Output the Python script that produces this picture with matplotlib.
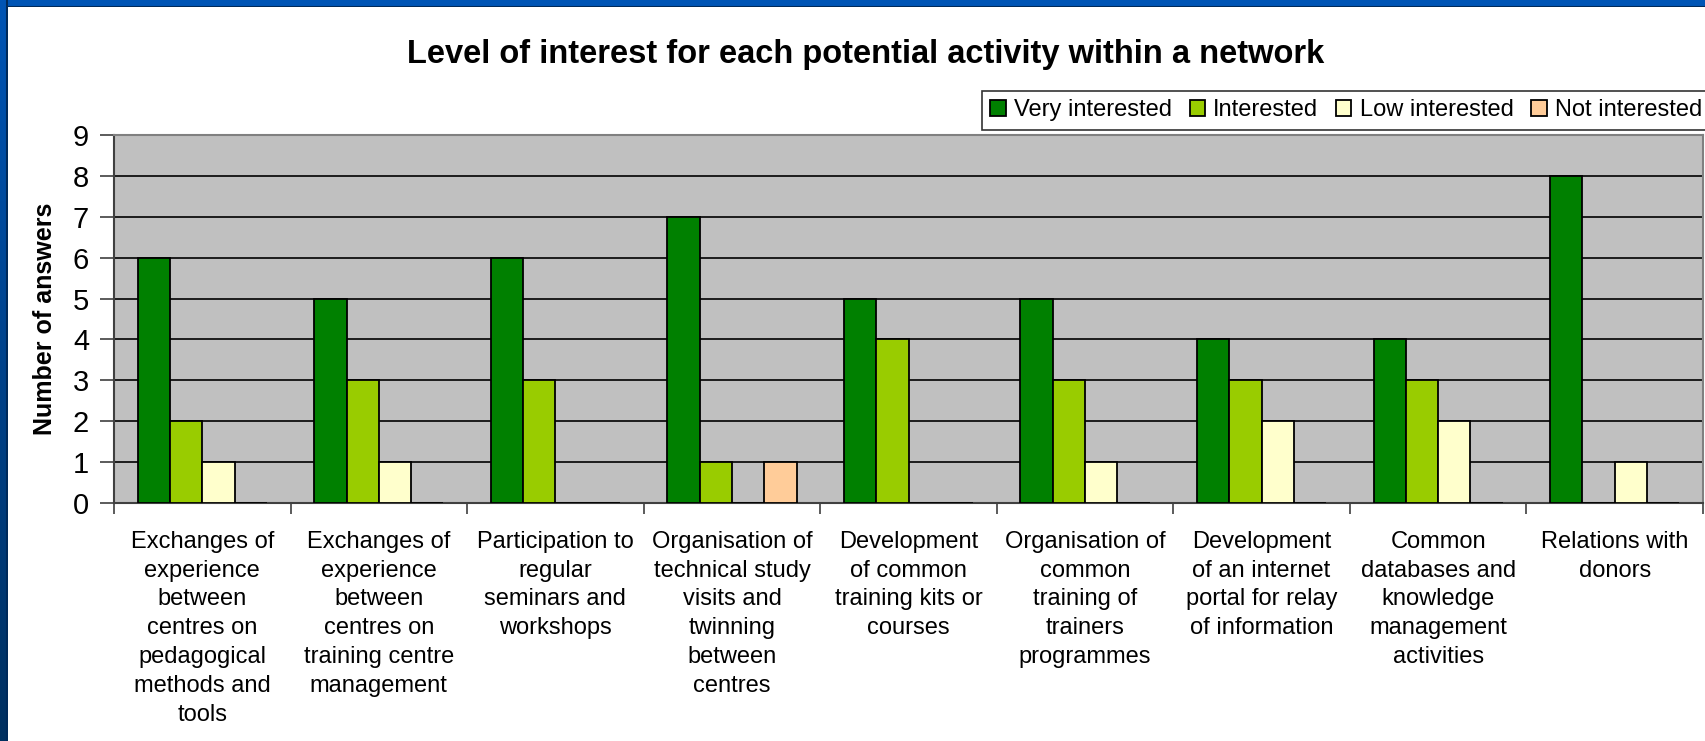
import numpy as np
import matplotlib
matplotlib.use("Agg")
import matplotlib.pyplot as plt
from matplotlib.patches import Rectangle

plt.rcParams['font.family'] = ['Liberation Sans', 'DejaVu Sans']

categories = [
    "Exchanges of\nexperience\nbetween\ncentres on\npedagogical\nmethods and\ntools",
    "Exchanges of\nexperience\nbetween\ncentres on\ntraining centre\nmanagement",
    "Participation to\nregular\nseminars and\nworkshops",
    "Organisation of\ntechnical study\nvisits and\ntwinning\nbetween\ncentres",
    "Development\nof common\ntraining kits or\ncourses",
    "Organisation of\ncommon\ntraining of\ntrainers\nprogrammes",
    "Development\nof an internet\nportal for relay\nof information",
    "Common\ndatabases and\nknowledge\nmanagement\nactivities",
    "Relations with\ndonors",
]
series_names = ["Very interested", "Interested", "Low interested", "Not interested"]
very_interested = [6, 5, 6, 7, 5, 5, 4, 4, 8]
interested = [2, 3, 3, 1, 4, 3, 3, 3, 0]
low_interested = [1, 1, 0, 0, 0, 1, 2, 2, 1]
not_interested = [0, 0, 0, 1, 0, 0, 0, 0, 0]
yticks = [0, 1, 2, 3, 4, 5, 6, 7, 8, 9]

colors = ["#008000", "#99CC00", "#FFFFCC", "#FFCC99"]

W, H = 1705, 741
fig = plt.figure(figsize=(W / 100, H / 100), dpi=100)
fig.patch.set_facecolor("white")

# slide background border (blue)
top = fig.add_axes([0, 1 - 7 / H, 1, 7 / H])
top.add_patch(Rectangle((0, 0), 1, 1, color="#0055B5", transform=top.transAxes))
top.axhline(0.05, color="#002a5a", lw=1.5)
top.set_axis_off()
left = fig.add_axes([0, 0, 8 / W, 1])
grad = np.linspace(0, 1, 256).reshape(-1, 1)
c0 = np.array([0x00, 0x55, 0xB5]) / 255
c1 = np.array([0x00, 0x30, 0x60]) / 255
img = c0[None, None, :] * (1 - grad[:, :, None]) + c1[None, None, :] * grad[:, :, None]
left.imshow(img, aspect="auto", extent=[0, 1, 0, 1], origin="upper")
left.axvline(0.93, color="#002a5a", lw=1.5)
left.set_xlim(0, 1)
left.set_ylim(0, 1)
left.set_axis_off()

ax = fig.add_axes([114 / W, 1 - 503 / H, (1703 - 114) / W, (503 - 135) / H])
ax.set_facecolor("#C0C0C0")

series = [very_interested, interested, low_interested, not_interested]
n = len(categories)
x = np.arange(n)
bw = 0.183
for i, (vals, name, col) in enumerate(zip(series, series_names, colors)):
    offs = (i - 1.5) * bw
    ax.bar(x + offs, vals, width=bw, color=col, edgecolor="black", linewidth=1.3,
           label=name, zorder=3)

ax.set_xlim(-0.5, n - 0.5)
ax.set_ylim(0, 9)
ax.set_yticks(yticks)
ax.yaxis.grid(True, color="black", linewidth=1.2, zorder=1)
ax.set_axisbelow(True)
ax.tick_params(axis="y", labelsize=21, length=10, width=1.2, color="#404040", pad=8)

ax.set_xticks(np.arange(-0.5, n, 1))
ax.set_xticklabels([])
ax.tick_params(axis="x", length=8, width=1.2, color="#404040")
ax.set_xticks(x, minor=True)
ax.set_xticklabels(categories, minor=True, fontsize=17, linespacing=1.40, va="top")
ax.tick_params(axis="x", which="minor", length=0, pad=20)

for s in ["top", "right"]:
    ax.spines[s].set_color("#808080")
    ax.spines[s].set_linewidth(1.5)
for s in ["left", "bottom"]:
    ax.spines[s].set_color("#404040")
    ax.spines[s].set_linewidth(1.5)

ax.set_ylabel("Number of answers", fontsize=18, fontweight="bold")
ax.yaxis.set_label_coords(57 / W, 1 - 319 / H, transform=fig.transFigure)

fig.text(866 / W, 1 - 54 / H, "Level of interest for each potential activity within a network",
         fontsize=23.5, fontweight="bold", ha="center", va="center")

leg = ax.legend(loc="upper left", bbox_to_anchor=(982 / W, 1 - 91 / H),
                bbox_transform=fig.transFigure, ncol=4, fontsize=17,
                frameon=True, fancybox=False, edgecolor="black", borderaxespad=0,
                handlelength=0.65, handleheight=0.65, handletextpad=0.35,
                columnspacing=0.75, borderpad=0.35)
leg.get_frame().set_linewidth(1.2)

fig.savefig("out.png", dpi=100)
